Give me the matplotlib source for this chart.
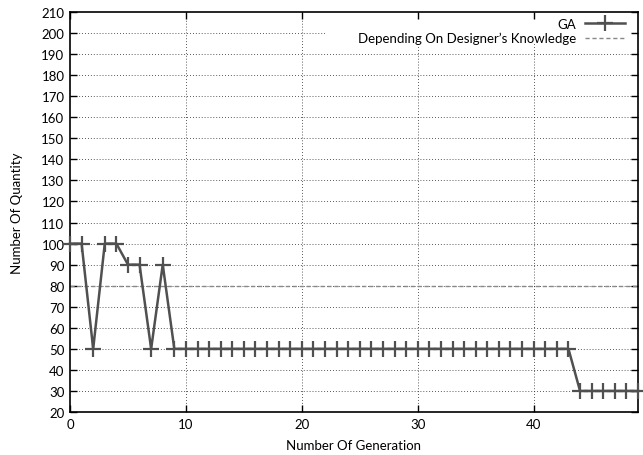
import matplotlib
matplotlib.use("Agg")
import matplotlib.pyplot as plt
from matplotlib.patches import Rectangle

plt.rcParams['font.family'] = ['Lato', 'DejaVu Sans']

generations = list(range(0, 50))
ga_values = [100, 100, 50, 100, 100, 90, 90, 50, 90, 50] + [50] * 34 + [30] * 6
designer_value = 80
x_ticks = [0, 10, 20, 30, 40]
y_ticks = list(range(20, 211, 10))

fig = plt.figure(figsize=(6.43, 4.56), dpi=100)
ax = fig.add_axes([70/643, 1 - 413/456, 568/643, 400/456])
ax.set_xlim(0, 49)
ax.set_ylim(20, 210)

# grid
for y in y_ticks[1:-1]:
    ax.axhline(y, color='#222222', lw=0.6, ls=(0, (1, 2.5)), zorder=0.5)
for x in x_ticks[1:]:
    ax.axvline(x, color='#222222', lw=0.6, ls=(0, (1, 2.5)), zorder=0.5)

# opaque key area
key = Rectangle(((325-70)/568, (413-45)/400), 1, 1, transform=ax.transAxes,
                facecolor='white', edgecolor='none', zorder=1, clip_on=True)
ax.add_patch(key)

ax.plot(generations, ga_values, color='#505050', lw=1.8, marker='+', ms=11, mew=1.6,
        label='GA', zorder=3, clip_on=False)
ax.axhline(designer_value, color='#888888', lw=1.0, ls=(0, (3, 2)),
           label="Depending On Designer\u2019s Knowledge", zorder=2)

ax.set_xticks(x_ticks)
ax.set_yticks(y_ticks)
ax.tick_params(direction='in', top=True, right=True, length=5, width=1, labelsize=9.5, pad=4)
for s in ax.spines.values():
    s.set_linewidth(1.2)

ax.set_xlabel('Number Of Generation', fontsize=9.5, labelpad=7)
ax.set_ylabel('Number Of Quantity', fontsize=9.5, labelpad=13)

leg = ax.legend(loc='upper right', bbox_to_anchor=(622/643 + 0.004, 1 - 19/456),
                bbox_transform=fig.transFigure, frameon=False, markerfirst=False,
                fontsize=9.5, handlelength=3.0, borderaxespad=0.0, borderpad=0.0,
                labelspacing=0.15, handletextpad=0.7)

fig.savefig('out.png', dpi=100)
